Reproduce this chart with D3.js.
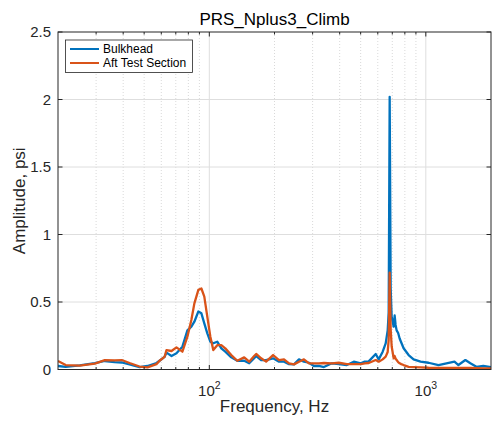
<!DOCTYPE html>
<html>
<head>
<meta charset="utf-8">
<script src="https://cdn.jsdelivr.net/npm/d3@7"></script>
<style>
body { margin: 0; background: #fff; }
text { font-family: "Liberation Sans", Arial, sans-serif; fill: #262626; }
</style>
</head>
<body>
<div id="chart"></div>
<script>
// spectrum (Hz, psi)
var freqHz = [20, 21.7, 25.2, 29.6, 32.9, 36.5, 39.4, 42.8, 47.6, 51.8, 57.0, 58.9, 62.1, 63.4, 66.9, 70.5,
  75.1, 79.2, 82.6, 85.3, 89.0, 91.9, 94.8, 97.9, 101.1, 104.3, 108.8, 113.6, 118.5, 126.3, 134.6, 144.9,
  152.8, 161.1, 164.6, 173.5, 182.9, 197.0, 209.9, 221.3, 233.4, 246.1, 259.5, 273.6, 288.5, 304.2, 320.7,
  338.2, 368.1, 396.6, 431.7, 464.8, 500.5, 522.2, 544.8, 586.9, 605.8, 632.1, 652.5, 666.5, 673.6, 680.8,
  688.0, 695.4, 710.3, 717.9, 725, 733.2, 745, 756.9, 770, 789.6, 832.6, 877.8, 945.4, 1029, 1144, 1356, 1414,
  1523, 1606, 1712, 1843, 2000];
var bulkhead = [0.026, 0.02, 0.03, 0.048, 0.063, 0.055, 0.052, 0.037, 0.018, 0.026, 0.048, 0.065, 0.093, 0.125, 0.1, 0.12,
  0.169, 0.29, 0.317, 0.354, 0.43, 0.416, 0.342, 0.268, 0.206, 0.194, 0.206, 0.157, 0.132, 0.09, 0.065, 0.065,
  0.046, 0.083, 0.1, 0.07, 0.07, 0.083, 0.058, 0.058, 0.04, 0.038, 0.075, 0.058, 0.05, 0.026, 0.026,
  0.018, 0.046, 0.04, 0.033, 0.058, 0.046, 0.058, 0.06, 0.115, 0.075, 0.132, 0.194, 0.29, 0.42, 2.02,
  0.6, 0.39, 0.317, 0.4, 0.33, 0.29, 0.27, 0.23, 0.2, 0.157, 0.107, 0.075, 0.058, 0.05, 0.033, 0.058, 0.033,
  0.07, 0.046, 0.02, 0.026, 0.018];
var aftTestSection = [0.063, 0.033, 0.028, 0.044, 0.07, 0.067, 0.07, 0.048, 0.022, 0.016, 0.04, 0.065, 0.093, 0.144, 0.137, 0.164,
  0.132, 0.243, 0.367, 0.49, 0.59, 0.6, 0.54, 0.39, 0.243, 0.144, 0.18, 0.18, 0.157, 0.107, 0.065, 0.09,
  0.058, 0.1, 0.115, 0.083, 0.058, 0.107, 0.07, 0.075, 0.046, 0.038, 0.058, 0.075, 0.046, 0.046, 0.046,
  0.048, 0.046, 0.05, 0.04, 0.04, 0.04, 0.046, 0.048, 0.07, 0.058, 0.075, 0.095, 0.13, 0.22, 0.717,
  0.3, 0.17, 0.083, 0.1, 0.08, 0.07, 0.055, 0.046, 0.04, 0.033, 0.02, 0.018, 0.016, 0.013, 0.011, 0.011, 0.011,
  0.011, 0.011, 0.01, 0.008, 0.008];
var seriesNames = ["Bulkhead", "Aft Test Section"];
var seriesColors = ["#0072BD", "#D95319"];
var yTicks = [0, 0.5, 1, 1.5, 2, 2.5];
var xMajorTicks = [100, 1000];
var xMinorTicks = [30, 40, 50, 60, 70, 80, 90, 200, 300, 400, 500, 600, 700, 800, 900];

var svgWidth = 492;
var svgHeight = 422;
var margin = { top: 32, right: 1, bottom: 52.5, left: 58 };
var width = svgWidth - margin.left - margin.right;
var height = svgHeight - margin.top - margin.bottom;

var svg = d3.select("#chart")
  .append("svg")
    .attr("width", svgWidth)
    .attr("height", svgHeight);

var chartGroup = svg.append("g")
  .attr("transform", `translate(${margin.left}, ${margin.top})`);

var x = d3.scaleLog().domain([20, 2000]).range([0, width]);
var y = d3.scaleLinear().domain([0, 2.5]).range([height, 0]);

// grid
chartGroup.selectAll(".minorgrid")
  .data(xMinorTicks)
  .enter().append("line")
    .attr("x1", d => x(d)).attr("x2", d => x(d))
    .attr("y1", 0).attr("y2", height)
    .attr("stroke", "#cfcfcf")
    .attr("stroke-width", 0.8)
    .attr("stroke-dasharray", "1,2");
chartGroup.selectAll(".xgrid")
  .data(xMajorTicks)
  .enter().append("line")
    .attr("x1", d => x(d)).attr("x2", d => x(d))
    .attr("y1", 0).attr("y2", height)
    .attr("stroke", "#dedede")
    .attr("stroke-width", 1);
chartGroup.selectAll(".ygrid")
  .data(yTicks.slice(1, -1))
  .enter().append("line")
    .attr("x1", 0).attr("x2", width)
    .attr("y1", d => y(d)).attr("y2", d => y(d))
    .attr("stroke", "#dedede")
    .attr("stroke-width", 1);

// lines
chartGroup.append("clipPath").attr("id", "plotclip")
  .append("rect").attr("width", width).attr("height", height);

var line = d3.line()
  .x((d, i) => x(freqHz[i]))
  .y(d => y(d));

[bulkhead, aftTestSection].forEach((vals, k) => {
  chartGroup.append("path")
    .datum(vals)
    .attr("clip-path", "url(#plotclip)")
    .attr("d", line)
    .attr("fill", "none")
    .attr("stroke", seriesColors[k])
    .attr("stroke-width", 2.3)
    .attr("stroke-linejoin", "round");
});

// box and inward ticks
chartGroup.append("rect")
  .attr("width", width).attr("height", height)
  .attr("fill", "none")
  .attr("stroke", "#262626")
  .attr("stroke-width", 1);

var tickG = chartGroup.append("g").attr("stroke", "#262626").attr("stroke-width", 1);
xMajorTicks.concat(xMinorTicks).forEach(t => {
  var len = xMajorTicks.indexOf(t) >= 0 ? 4.5 : 2.5;
  tickG.append("line").attr("x1", x(t)).attr("x2", x(t)).attr("y1", height).attr("y2", height - len);
  tickG.append("line").attr("x1", x(t)).attr("x2", x(t)).attr("y1", 0).attr("y2", len);
});
yTicks.forEach(t => {
  tickG.append("line").attr("x1", 0).attr("x2", 4.5).attr("y1", y(t)).attr("y2", y(t));
  tickG.append("line").attr("x1", width).attr("x2", width - 4.5).attr("y1", y(t)).attr("y2", y(t));
});

// tick labels
chartGroup.selectAll(".ylab")
  .data(yTicks)
  .enter().append("text")
    .attr("x", -7)
    .attr("y", d => y(d))
    .attr("dy", "0.36em")
    .attr("text-anchor", "end")
    .attr("font-size", "15px")
    .text(d => d);

xMajorTicks.forEach(t => {
  var lab = chartGroup.append("text")
    .attr("x", x(t))
    .attr("y", height + 26)
    .attr("text-anchor", "middle")
    .attr("font-size", "15px");
  lab.append("tspan").text("10");
  lab.append("tspan")
    .attr("font-size", "10.5px")
    .attr("dy", "-7")
    .text(Math.round(Math.log10(t)));
});

// titles
svg.append("text")
  .attr("x", margin.left + width / 2)
  .attr("y", 25)
  .attr("text-anchor", "middle")
  .attr("font-size", "17px")
  .style("fill", "#000")
  .text("PRS_Nplus3_Climb");

svg.append("text")
  .attr("x", margin.left + width / 2)
  .attr("y", 412)
  .attr("text-anchor", "middle")
  .attr("font-size", "17px")
  .text("Frequency, Hz");

svg.append("text")
  .attr("transform", `translate(25, ${margin.top + height / 2}) rotate(-90)`)
  .attr("text-anchor", "middle")
  .attr("font-size", "17px")
  .text("Amplitude, psi");

// legend
var legend = svg.append("g").attr("transform", "translate(65.5, 40)");
legend.append("rect")
  .attr("width", 127).attr("height", 32.5)
  .attr("fill", "#fff")
  .attr("stroke", "#262626")
  .attr("stroke-width", 0.8);
seriesNames.forEach((name, i) => {
  legend.append("line")
    .attr("x1", 4.5).attr("x2", 33.5)
    .attr("y1", 9 + i * 14).attr("y2", 9 + i * 14)
    .attr("stroke", seriesColors[i])
    .attr("stroke-width", 2);
  legend.append("text")
    .attr("x", 37.5)
    .attr("y", 9 + i * 14)
    .attr("dy", "0.36em")
    .attr("font-size", "12px")
    .style("fill", "#000")
    .text(name);
});
</script>
</body>
</html>
